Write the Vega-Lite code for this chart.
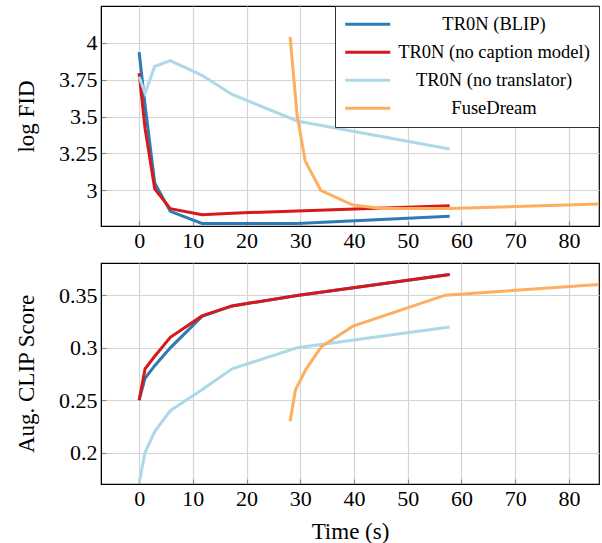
{
  "$schema": "https://vega.github.io/schema/vega-lite/v6.json",
  "padding": {"left": 14, "top": 4, "right": 3, "bottom": 0},
  "background": "white",
  "config": {
    "font": "Liberation Serif",
    "view": {"stroke": "black", "strokeWidth": 1.2},
    "axis": {
      "labelFont": "Liberation Serif", "labelFontSize": 22, "labelColor": "black",
      "titleFont": "Liberation Serif", "titleFontSize": 23, "titleFontWeight": "normal", "titleColor": "black",
      "domainColor": "black", "ticks": true, "tickSize": -5, "tickColor": "#8a8a8a", "tickWidth": 1.2, "labelPadding": 9,
      "gridColor": "#d4d4d4", "gridWidth": 1.2
    }
  },
  "datasets": {
    "fid": [
      {"s": "TR0N (BLIP)", "t": 0, "v": 3.937},
      {"s": "TR0N (BLIP)", "t": 1.1, "v": 3.58},
      {"s": "TR0N (BLIP)", "t": 2.9, "v": 3.05},
      {"s": "TR0N (BLIP)", "t": 5.8, "v": 2.857},
      {"s": "TR0N (BLIP)", "t": 11.7, "v": 2.775},
      {"s": "TR0N (BLIP)", "t": 17.3, "v": 2.775},
      {"s": "TR0N (BLIP)", "t": 29.4, "v": 2.775},
      {"s": "TR0N (BLIP)", "t": 57.8, "v": 2.824},
      {"s": "TR0N (no caption model)", "t": 0, "v": 3.795},
      {"s": "TR0N (no caption model)", "t": 1.1, "v": 3.42},
      {"s": "TR0N (no caption model)", "t": 2.9, "v": 3.01},
      {"s": "TR0N (no caption model)", "t": 5.8, "v": 2.875},
      {"s": "TR0N (no caption model)", "t": 11.7, "v": 2.835},
      {"s": "TR0N (no caption model)", "t": 17.3, "v": 2.845},
      {"s": "TR0N (no caption model)", "t": 29.4, "v": 2.86},
      {"s": "TR0N (no caption model)", "t": 57.8, "v": 2.895},
      {"s": "TR0N (no translator)", "t": 0, "v": 3.77},
      {"s": "TR0N (no translator)", "t": 1.1, "v": 3.66},
      {"s": "TR0N (no translator)", "t": 2.9, "v": 3.84},
      {"s": "TR0N (no translator)", "t": 5.8, "v": 3.88},
      {"s": "TR0N (no translator)", "t": 11.7, "v": 3.78},
      {"s": "TR0N (no translator)", "t": 17.3, "v": 3.65},
      {"s": "TR0N (no translator)", "t": 29.4, "v": 3.47},
      {"s": "TR0N (no translator)", "t": 57.8, "v": 3.28},
      {"s": "FuseDream", "t": 28.1, "v": 4.04},
      {"s": "FuseDream", "t": 29.4, "v": 3.51},
      {"s": "FuseDream", "t": 30.9, "v": 3.2},
      {"s": "FuseDream", "t": 33.8, "v": 3.0},
      {"s": "FuseDream", "t": 39.8, "v": 2.9},
      {"s": "FuseDream", "t": 45.2, "v": 2.876},
      {"s": "FuseDream", "t": 57.8, "v": 2.876},
      {"s": "FuseDream", "t": 85.6, "v": 2.907}
    ],
    "clip": [
      {"s": "TR0N (BLIP)", "t": 0, "v": 0.25},
      {"s": "TR0N (BLIP)", "t": 1.1, "v": 0.271},
      {"s": "TR0N (BLIP)", "t": 2.9, "v": 0.283},
      {"s": "TR0N (BLIP)", "t": 5.8, "v": 0.3},
      {"s": "TR0N (BLIP)", "t": 11.7, "v": 0.33},
      {"s": "TR0N (BLIP)", "t": 17.3, "v": 0.34},
      {"s": "TR0N (BLIP)", "t": 29.4, "v": 0.35},
      {"s": "TR0N (BLIP)", "t": 57.8, "v": 0.37},
      {"s": "TR0N (no caption model)", "t": 0, "v": 0.25},
      {"s": "TR0N (no caption model)", "t": 1.1, "v": 0.28},
      {"s": "TR0N (no caption model)", "t": 2.9, "v": 0.292},
      {"s": "TR0N (no caption model)", "t": 5.8, "v": 0.31},
      {"s": "TR0N (no caption model)", "t": 11.7, "v": 0.3305},
      {"s": "TR0N (no caption model)", "t": 17.3, "v": 0.34},
      {"s": "TR0N (no caption model)", "t": 29.4, "v": 0.35},
      {"s": "TR0N (no caption model)", "t": 57.8, "v": 0.37},
      {"s": "TR0N (no translator)", "t": 0, "v": 0.171},
      {"s": "TR0N (no translator)", "t": 1.1, "v": 0.2},
      {"s": "TR0N (no translator)", "t": 2.9, "v": 0.22},
      {"s": "TR0N (no translator)", "t": 5.8, "v": 0.24},
      {"s": "TR0N (no translator)", "t": 11.7, "v": 0.26},
      {"s": "TR0N (no translator)", "t": 17.3, "v": 0.28},
      {"s": "TR0N (no translator)", "t": 29.4, "v": 0.3},
      {"s": "TR0N (no translator)", "t": 57.8, "v": 0.32},
      {"s": "FuseDream", "t": 28.1, "v": 0.23},
      {"s": "FuseDream", "t": 29.1, "v": 0.26},
      {"s": "FuseDream", "t": 31.1, "v": 0.28},
      {"s": "FuseDream", "t": 33.9, "v": 0.301},
      {"s": "FuseDream", "t": 39.8, "v": 0.3207},
      {"s": "FuseDream", "t": 57, "v": 0.3503},
      {"s": "FuseDream", "t": 85.6, "v": 0.3605}
    ]
  },
  "spacing": 10,
  "resolve": {"legend": {"color": "independent"}},
  "vconcat": [
    {
      "width": 498, "height": 220,
      "data": {"name": "fid"},
      "mark": {"type": "line", "strokeWidth": 3, "clip": true},
      "encoding": {
        "x": {"field": "t", "type": "quantitative",
              "scale": {"domain": [-7.1, 85.6], "nice": false, "zero": false},
              "axis": {"values": [0, 10, 20, 30, 40, 50, 60, 70, 80], "title": null,
                       "labelFont": "Liberation Serif", "labelFontSize": 22}},
        "y": {"field": "v", "type": "quantitative",
              "scale": {"domain": [2.758, 4.25], "nice": false, "zero": false},
              "axis": {"values": [3, 3.25, 3.5, 3.75, 4], "format": ".4~g", "title": "log FID", "titlePadding": 20,
                       "labelFont": "Liberation Serif", "labelFontSize": 22,
                       "titleFont": "Liberation Serif", "titleFontSize": 23, "titleFontWeight": "normal"}},
        "color": {"field": "s", "type": "nominal",
                  "scale": {"domain": ["TR0N (BLIP)", "TR0N (no caption model)", "TR0N (no translator)", "FuseDream"],
                            "range": ["#2c7bb6", "#d7191c", "#abd9e9", "#fdae61"]},
                  "legend": {"orient": "top-right", "offset": 0, "title": null,
                             "symbolType": "M-4,0H4", "symbolSize": 127, "symbolStrokeWidth": 3, "symbolOffset": 14.5,
                             "labelFont": "Liberation Serif", "labelFontSize": 18.5, "labelColor": "black",
                             "labelAlign": "center", "labelOffset": 117, "labelLimit": 400,
                             "fillColor": "white", "strokeColor": "#333", "padding": 9, "rowPadding": 9}}
      }
    },
    {
      "width": 498, "height": 221,
      "data": {"name": "clip"},
      "mark": {"type": "line", "strokeWidth": 3, "clip": true},
      "encoding": {
        "x": {"field": "t", "type": "quantitative",
              "scale": {"domain": [-7.1, 85.6], "nice": false, "zero": false},
              "axis": {"values": [0, 10, 20, 30, 40, 50, 60, 70, 80], "title": "Time (s)", "titlePadding": 11,
                       "labelFont": "Liberation Serif", "labelFontSize": 22,
                       "titleFont": "Liberation Serif", "titleFontSize": 23, "titleFontWeight": "normal"}},
        "y": {"field": "v", "type": "quantitative",
              "scale": {"domain": [0.17, 0.381], "nice": false, "zero": false},
              "axis": {"values": [0.2, 0.25, 0.3, 0.35], "format": ".4~g", "title": "Aug. CLIP Score", "titlePadding": 20,
                       "labelFont": "Liberation Serif", "labelFontSize": 22,
                       "titleFont": "Liberation Serif", "titleFontSize": 23, "titleFontWeight": "normal"}},
        "color": {"field": "s", "type": "nominal", "legend": null}
      }
    }
  ]
}
